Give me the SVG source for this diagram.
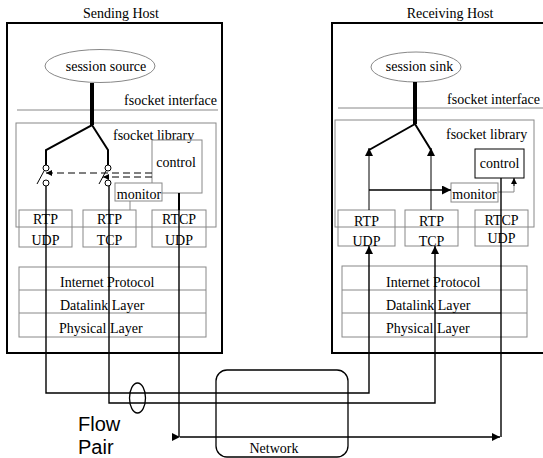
<svg xmlns="http://www.w3.org/2000/svg" width="543" height="458" viewBox="0 0 543 458">
<style>
text{font-family:"Liberation Serif","Times New Roman",serif;font-size:14px;fill:#000}
.sans{font-family:"Liberation Sans",Arial,sans-serif;font-size:20px}
.g{fill:none;stroke:#888;stroke-width:1}
.gw{fill:#fff;stroke:#888;stroke-width:1}
.host{fill:none;stroke:#000;stroke-width:2}
.k{fill:none;stroke:#000;stroke-width:1.4}
.br{fill:none;stroke:#000;stroke-width:2}
.trunk{fill:none;stroke:#000;stroke-width:4}
.dash{fill:none;stroke:#000;stroke-width:1;stroke-dasharray:7 4}
.c{text-anchor:middle}
</style>
<defs>
<marker id="ah" viewBox="0 0 10 10" refX="10" refY="5" markerWidth="9" markerHeight="8" markerUnits="userSpaceOnUse" orient="auto">
<path d="M0,0 L10,5 L0,10 z" fill="#000"/>
</marker>
<marker id="ahs" viewBox="0 0 10 10" refX="10" refY="5" markerWidth="7" markerHeight="6" markerUnits="userSpaceOnUse" orient="auto-start-reverse">
<path d="M0,0 L10,5 L0,10 z" fill="#000"/>
</marker>
<marker id="ahb" viewBox="0 0 10 10" refX="10" refY="5" markerWidth="11" markerHeight="9" markerUnits="userSpaceOnUse" orient="auto-start-reverse">
<path d="M0,0 L10,5 L0,10 z" fill="#000"/>
</marker>
</defs>

<g id="sending-host">
<text x="121" y="18" class="c">Sending Host</text>
<rect x="7" y="23" width="215" height="330" class="host"/>
<line x1="17" y1="110" x2="218" y2="110" class="g"/>
<text x="217" y="105" text-anchor="end">fsocket interface</text>
<rect x="16" y="123" width="200" height="104" class="g"/>
<text x="113" y="140">fsocket library</text>
</g>

<g id="session-source">
<ellipse cx="100" cy="66" rx="55" ry="16.5" class="g"/>
<text x="106" y="71" class="c">session source</text>
</g>

<g id="s-control">
<rect x="152" y="140" width="50" height="53" class="g"/>
<text x="176" y="167" class="c">control</text>
</g>
<g id="s-monitor">
<rect x="115" y="183" width="47" height="18" class="gw"/>
<text x="139" y="199" class="c">monitor</text>
</g>

<g id="s-rtp-udp">
<rect x="19" y="210" width="53" height="37" class="g"/>
<text x="45.5" y="224" class="c">RTP</text>
<text x="45.5" y="245" class="c">UDP</text>
</g>
<g id="s-rtp-tcp">
<rect x="83" y="210" width="53" height="37" class="g"/>
<text x="109.5" y="224" class="c">RTP</text>
<text x="109.5" y="245" class="c">TCP</text>
</g>
<g id="s-rtcp-udp">
<rect x="152" y="210" width="54" height="37" class="g"/>
<text x="179" y="224" class="c">RTCP</text>
<text x="179" y="245" class="c">UDP</text>
</g>
<g id="s-stack">
<rect x="19" y="267" width="187" height="70" class="g"/>
<line x1="19" y1="290" x2="206" y2="290" class="g"/>
<line x1="19" y1="313" x2="206" y2="313" class="g"/>
<text x="60" y="287">Internet Protocol</text>
<text x="60" y="310">Datalink Layer</text>
<text x="59" y="333">Physical Layer</text>
</g>

<g id="receiving-host">
<text x="450" y="18" class="c">Receiving Host</text>
<rect x="332" y="23" width="230" height="330" class="host"/>
<line x1="338" y1="108" x2="543" y2="108" class="g"/>
<text x="540" y="104" text-anchor="end">fsocket interface</text>
<rect x="335" y="120" width="199" height="107" class="g"/>
<text x="446" y="139">fsocket library</text>
</g>

<g id="session-sink">
<ellipse cx="416" cy="67" rx="45" ry="15" class="g"/>
<text x="419.5" y="71" class="c">session sink</text>
</g>

<g id="r-control">
<rect x="475" y="149" width="49" height="29" fill="none" stroke="#000" stroke-width="1"/>
<text x="499.5" y="168" class="c">control</text>
</g>
<g id="r-monitor">
<rect x="451" y="183" width="47" height="19" class="gw"/>
<text x="474.5" y="199" class="c">monitor</text>
</g>

<g id="r-rtp-udp">
<rect x="338" y="210" width="57" height="36" class="g"/>
<text x="366.5" y="226" class="c">RTP</text>
<text x="366.5" y="246" class="c">UDP</text>
</g>
<g id="r-rtp-tcp">
<rect x="405" y="210" width="53" height="36" class="g"/>
<text x="431.5" y="226" class="c">RTP</text>
<text x="431.5" y="246" class="c">TCP</text>
</g>
<g id="r-rtcp-udp">
<rect x="475" y="210" width="53" height="36" class="g"/>
<text x="501.5" y="225" class="c">RTCP</text>
<text x="501.5" y="243" class="c">UDP</text>
</g>
<g id="r-stack">
<rect x="342" y="266" width="185" height="71" class="g"/>
<line x1="342" y1="290" x2="527" y2="290" class="g"/>
<line x1="342" y1="313" x2="527" y2="313" class="g"/>
<text x="386" y="287">Internet Protocol</text>
<text x="386" y="310">Datalink Layer</text>
<text x="386" y="333">Physical Layer</text>
</g>

<g id="network">
<rect x="216" y="370" width="132" height="87" rx="11" ry="11" fill="none" stroke="#000" stroke-width="1.3"/>
<text x="274" y="453" class="c" font-size="13">Network</text>
</g>

<g id="flow-pair">
<ellipse cx="137.5" cy="398" rx="8" ry="15" fill="none" stroke="#000" stroke-width="1.3"/>
<text x="78" y="431" class="sans">Flow</text>
<text x="78" y="454" class="sans">Pair</text>
</g>

<g id="connectors">
<line x1="92" y1="83" x2="92" y2="125" class="trunk"/>
<polyline points="46,165 46,150 92,125 108,150 108,165" class="br"/>
<circle cx="46" cy="168" r="3" fill="#fff" stroke="#000" stroke-width="1"/>
<circle cx="46" cy="183" r="3" fill="#fff" stroke="#000" stroke-width="1"/>
<circle cx="108" cy="168" r="3" fill="#fff" stroke="#000" stroke-width="1"/>
<circle cx="108" cy="183" r="3" fill="#fff" stroke="#000" stroke-width="1"/>
<line x1="37" y1="184" x2="44" y2="171" stroke="#000" stroke-width="1"/>
<line x1="99" y1="184" x2="106" y2="171" stroke="#000" stroke-width="1"/>
<line x1="108" y1="173" x2="46" y2="173" class="dash" marker-end="url(#ahs)"/>
<line x1="152" y1="173" x2="110" y2="173" class="dash"/>
<line x1="152" y1="177" x2="103" y2="177" class="dash" marker-end="url(#ahs)"/>
<line x1="130" y1="201" x2="130" y2="210" class="g"/>
<line x1="179" y1="193" x2="179" y2="210" class="br"/>

<line x1="415" y1="82" x2="415" y2="124" class="trunk"/>
<polyline points="369,150 415,124 431,150" class="br"/>
<line x1="369" y1="210" x2="369" y2="148" stroke="#000" stroke-width="1" marker-end="url(#ah)"/>
<line x1="431" y1="210" x2="431" y2="148" stroke="#000" stroke-width="1" marker-end="url(#ah)"/>
<line x1="369" y1="190" x2="451" y2="190" stroke="#000" stroke-width="1.5" marker-end="url(#ahb)"/>
<polyline points="498,192 514,192 514,180" class="g"/>
<line x1="514" y1="186" x2="514" y2="178" stroke="#000" stroke-width="1" marker-end="url(#ahs)"/>
<line x1="435" y1="313" x2="501" y2="313" stroke="#000" stroke-width="1"/>

<polyline points="46,186 46,393 369,393 369,246" class="k" marker-end="url(#ah)"/>
<polyline points="109,186 109,403 435,403 435,246" class="k" marker-end="url(#ah)"/>
<line x1="179" y1="210" x2="179" y2="437" class="k"/>
<line x1="501" y1="178" x2="501" y2="437" class="k"/>
<line x1="180" y1="437" x2="500" y2="437" class="k" marker-start="url(#ah)" marker-end="url(#ah)"/>
</g>
</svg>
